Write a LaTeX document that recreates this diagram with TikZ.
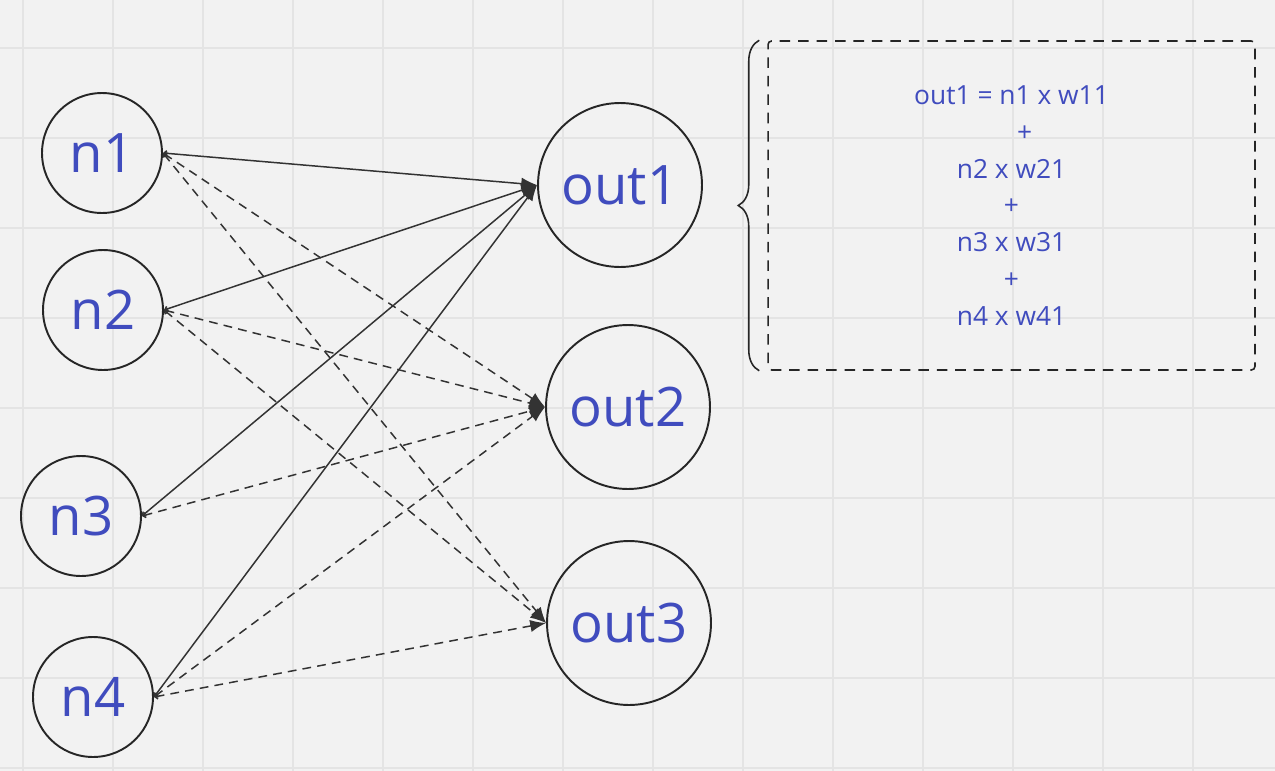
\documentclass[tikz,border=0pt]{standalone}
\usepackage{fontspec}
\setmainfont{Open Sans}
\usepackage{xcolor}
\definecolor{bleu}{RGB}{64,76,190}
\definecolor{fond}{RGB}{242,242,242}
\definecolor{grille}{RGB}{228,228,228}
\usetikzlibrary{arrows.meta,decorations.pathreplacing}
\tikzset{
  neur/.style={circle,draw=black!85,line width=1.1pt,minimum size=2.4cm,inner sep=0pt,text=bleu,font=\fontsize{31}{36}\selectfont},
  neurout/.style={neur,minimum size=3.28cm},
  line/.style={draw=black!80, line width=0.85pt, {Straight Barb[length=1.5pt,width=3pt]}-{Latex[length=9pt,width=7pt]}},
  dline/.style={line, dash pattern=on 5pt off 3.5pt},
  formule/.style={rectangle,draw=black!85,line width=0.9pt,dash pattern=on 6pt off 4.5pt,rounded corners=2pt,minimum width=9.74cm,minimum height=6.58cm,align=center,text=bleu,font=\fontsize{15}{21}\selectfont},
  brace/.style={draw=black!85,line width=0.9pt,decorate,decoration={brace,amplitude=0.42cm}},
}
\begin{document}
\begin{tikzpicture}[x=0.02cm, y=-0.02cm]
  % background and grid
  \fill[fond] (0,0) rectangle (1275,771);
  \useasboundingbox (0,0) rectangle (1275,771);
  \foreach \x in {23,113,...,1273}
    \draw[grille, line width=0.6pt] (\x,0) -- (\x,771);
  \foreach \y in {48,138,...,770}
    \draw[grille, line width=0.6pt] (0,\y) -- (1275,\y);

  % input neurons
  \node[neur] (n1) at (102,153) {n1};
  \node[neur] (n2) at (103,310) {n2};
  \node[neur] (n3) at (81,516) {n3};
  \node[neur] (n4) at (93,697) {n4};
  % output neurons
  \node[neurout] (out1) at (620,185) {out1};
  \node[neurout] (out2) at (628,407) {out2};
  \node[neurout] (out3) at (629,623) {out3};

  \path
    (n1.east) edge [line] (out1.west)
              edge [dline] (out2.west)
              edge [dline] (out3.west)
    (n2.east) edge [line] (out1.west)
              edge [dline] (out2.west)
              edge [dline] (out3.west)
    (n3.east) edge [line] (out1.west)
              edge [dline] (out2.west)
    (n4.east) edge [line] (out1.west)
              edge [dline] (out2.west)
              edge [dline] (out3.west);

  % weighted sum
  \node[formule] (sum) at (1011.5,205.5) {out1 = n1 x w11\\\hspace*{15pt}+\\n2 x w21\\+\\n3 x w31\\+\\n4 x w41};
  \draw[brace] ([xshift=-0.16cm]sum.south west) -- ([xshift=-0.16cm]sum.north west);
\end{tikzpicture}
\end{document}
